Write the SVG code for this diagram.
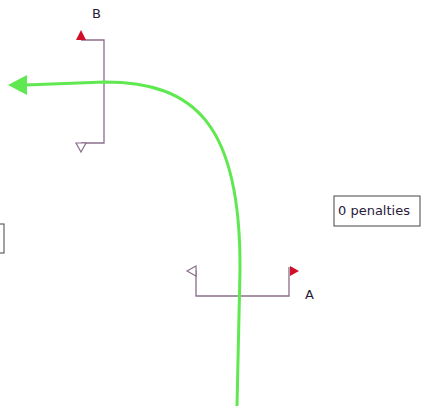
<svg xmlns="http://www.w3.org/2000/svg" width="424" height="412" viewBox="0 0 424 412">
<style>
.gate{fill:none;stroke:#8a6f8a;stroke-width:1.3}
.flag{fill:#d0102a}
.hollow{fill:#fff;stroke:#8a6f8a;stroke-width:1.2}
.lbl{font-family:"DejaVu Sans","Liberation Sans",sans-serif;font-size:13px;fill:#2a1a3a}
.box{fill:#fff;stroke:#444;stroke-width:1}
</style>
<rect width="424" height="412" fill="#fff"/>
<g id="boxLeft"><rect class="box" x="-20" y="224" width="24" height="29"/></g>
<g id="penalties"><rect class="box" x="334" y="196" width="86" height="30"/><text class="lbl" x="338" y="215">0 penalties</text></g>
<g id="gateB">
<path class="gate" d="M81 40 H104 V143 H81"/>
<polygon class="flag" points="76,40 86,40 81,30"/>
<polygon class="hollow" points="76,143 86,143 81,152"/>
<text class="lbl" x="92" y="18">B</text>
</g>
<g id="gateA">
<path class="gate" d="M196 270 V296 H289 V267"/>
<polygon class="hollow" points="196,266 196,276 187,271"/>
<polygon class="flag" points="290,266 290,276 299,271"/>
<text class="lbl" x="305" y="299">A</text>
</g>
<g id="connectors">
<path d="M237 406 L240 270 C241 125 195 82 105 82 L25 85" fill="none" stroke="#5fe850" stroke-width="3"/>
<polygon points="8,85 27,75 27,95" fill="#5fe850"/>
</g>
</svg>
